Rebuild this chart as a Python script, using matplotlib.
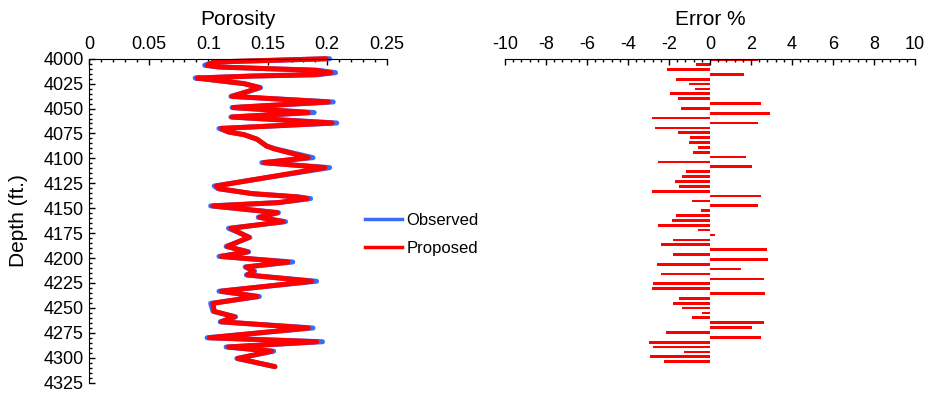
import numpy as np
import matplotlib
matplotlib.use("Agg")
import matplotlib.pyplot as plt
from matplotlib.ticker import MultipleLocator, FixedLocator
from matplotlib.lines import Line2D

plt.rcParams['font.family'] = ['Liberation Sans', 'DejaVu Sans']
plt.rcParams['axes.unicode_minus'] = False

# porosity log (observed vs proposed model)
depth_ft = [4000, 4003.3, 4006.6, 4008.3, 4010, 4011.6, 4014, 4016, 4017.4, 4019.4,
            4021.5, 4025, 4029, 4033, 4037.8, 4043.4, 4049, 4054, 4058.5, 4064.5,
            4070, 4073.5, 4076.2, 4080.8, 4087.6, 4090.3, 4099.3, 4104.3, 4109.3, 4127.7,
            4130.4, 4135.4, 4138.7, 4140.4, 4144.4, 4147.7, 4154.5, 4159.1, 4163.5, 4170.2,
            4179.3, 4188.4, 4193.8, 4198.4, 4204.0, 4209.0, 4213.3, 4217.0, 4223.3, 4233.3,
            4238.6, 4245.5, 4253.5, 4259.0, 4264.0, 4270.2, 4280.0, 4284.0, 4289.3, 4293.5,
            4300.8, 4309.0]

observed = [0.202, 0.105, 0.097, 0.109, 0.150, 0.192, 0.207, 0.192, 0.137, 0.089,
            0.105, 0.130, 0.144, 0.133, 0.119, 0.205, 0.120, 0.189, 0.119, 0.208,
            0.109, 0.117, 0.130, 0.141, 0.149, 0.156, 0.188, 0.145, 0.202, 0.105,
            0.108, 0.137, 0.176, 0.186, 0.159, 0.102, 0.159, 0.142, 0.165, 0.117,
            0.135, 0.115, 0.134, 0.109, 0.171, 0.131, 0.139, 0.132, 0.191, 0.109,
            0.143, 0.102, 0.104, 0.123, 0.110, 0.188, 0.099, 0.196, 0.115, 0.155,
            0.124, 0.156]

proposed = [0.199, 0.105, 0.099, 0.109, 0.150, 0.190, 0.203, 0.190, 0.137, 0.091,
            0.105, 0.130, 0.143, 0.133, 0.120, 0.201, 0.121, 0.184, 0.120, 0.204,
            0.111, 0.117, 0.130, 0.141, 0.149, 0.155, 0.184, 0.147, 0.198, 0.107,
            0.109, 0.137, 0.175, 0.183, 0.159, 0.104, 0.158, 0.143, 0.163, 0.119,
            0.134, 0.116, 0.133, 0.111, 0.167, 0.132, 0.138, 0.133, 0.187, 0.111,
            0.141, 0.104, 0.105, 0.122, 0.111, 0.184, 0.101, 0.191, 0.117, 0.153,
            0.125, 0.156]

# relative error per sample, %
error_pct = [2.33, -0.68, -2.10, 1.66, -1.66, -1.02, -0.73, -1.95, -1.56, 2.49,
             -1.41, 2.93, -2.83, 2.34, -2.68, -1.56, -0.98, -1.02, -0.59, -0.83,
             1.76, -2.54, 2.05, -1.17, -1.37, -1.71, -1.51, -2.83, 2.49, -0.88,
             2.34, -0.44, -1.66, -1.85, -2.54, -0.59, 0.24, -1.80, -2.39, 2.78,
             -1.80, 2.83, -2.59, 1.51, -2.39, 2.63, -2.78, -2.83, 2.68, -1.51,
             -1.80, -1.37, -0.39, -0.88, 2.63, 2.05, -2.15, 2.49, -2.98, -2.78,
             -1.27, -2.93, -2.24]
sample = np.arange(1, len(error_pct) + 1)

por_ticks = [0, 0.05, 0.1, 0.15, 0.2, 0.25]
por_labels = ['0', '0.05', '0.1', '0.15', '0.2', '0.25']
err_ticks = [-10, -8, -6, -4, -2, 0, 2, 4, 6, 8, 10]

blue = '#3b6cf5'
red = '#ff0000'

fig = plt.figure(figsize=(9.29, 3.93), dpi=100)

ax1 = fig.add_axes([0.0961, 0.0265, 0.3202, 0.8241])
ax1.plot(observed, depth_ft, color=blue, lw=3.6, solid_joinstyle='round',
         solid_capstyle='round', clip_on=False)
ax1.plot(proposed, depth_ft, color=red, lw=3.6, solid_joinstyle='round',
         solid_capstyle='round', clip_on=False)
ax1.set_xlim(0, 0.25)
ax1.set_ylim(4325, 4000)
for s in ['right', 'bottom']:
    ax1.spines[s].set_visible(False)
ax1.xaxis.tick_top()
ax1.xaxis.set_major_locator(FixedLocator(por_ticks))
ax1.set_xticklabels(por_labels)
ax1.xaxis.set_minor_locator(MultipleLocator(0.01))
ax1.yaxis.set_major_locator(MultipleLocator(25))
ax1.yaxis.set_minor_locator(MultipleLocator(5))
ax1.tick_params(which='both', direction='in', labelsize=13, width=1)
ax1.tick_params(which='major', length=4.5, pad=4)
ax1.tick_params(which='minor', length=2.5)
ax1.set_title('Porosity', fontsize=15, pad=24)
ax1.set_ylabel('Depth (ft.)', fontsize=15, labelpad=11)

ax2 = fig.add_axes([0.5436, 0.0265, 0.4414, 0.8241])
ax2.barh(sample, error_pct, height=0.55, color=red, linewidth=0)
ax2.set_xlim(-10, 10)
ax2.set_ylim(67.3, 0.8)
for s in ['right', 'bottom', 'left']:
    ax2.spines[s].set_visible(False)
ax2.xaxis.tick_top()
ax2.set_xticks(err_ticks)
ax2.xaxis.set_minor_locator(MultipleLocator(0.4))
ax2.set_yticks([])
ax2.tick_params(which='both', direction='in', labelsize=13, width=1)
ax2.tick_params(which='major', length=4.5, pad=4)
ax2.tick_params(which='minor', length=2.5)
ax2.set_title('Error %', fontsize=15, pad=24)

handles = [Line2D([], [], color=blue, lw=2.5), Line2D([], [], color=red, lw=2.5)]
fig.legend(handles, ['Observed', 'Proposed'], loc='center left',
           bbox_to_anchor=(0.384, 0.404), frameon=False, fontsize=12,
           handlelength=2.2, handletextpad=0.3, labelspacing=0.8, borderpad=0)

fig.savefig('out.png', dpi=100)
